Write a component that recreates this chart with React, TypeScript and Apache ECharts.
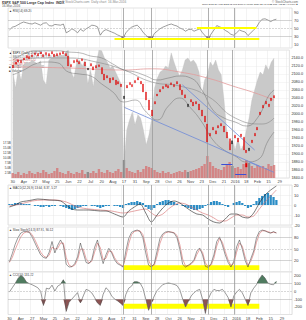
import React, { useEffect, useRef } from "react";
import * as echarts from "echarts";

// ---------- DATA ----------
const N = 100; // categories (95 with data, rest future)
const tickLabels = ["30","Apr","27","May","25","Jun","22","Jul","20","Aug","17","31","Sep","28","Oct","26","Nov","23","Dec","21","2016","18","Feb","15","29"];

const closes = [2115,2125,2130,2128,2135,2140,2138,2143,2148,2145,
  2150,2143,2148,2145,2150,2143,2145,2148,2150,2145,
  2120,2118,2128,2130,2125,2133,2120,2115,2120,2110,
  2115,2118,2100,2085,2090,2078,2085,2073,2075,2068,
  2045,2065,2073,2068,2078,2085,2075,2055,2035,2010,
  1995,2025,2045,2055,2063,2068,2065,2073,2068,2075,
  2060,2048,2040,2025,2030,2020,2025,2010,1995,1980,
  1930,1945,1960,1950,1965,1970,1955,1940,1910,1933,
  1940,1930,1943,1910,1903,1915,1928,1945,1960,1998,
  2015,2025,2018,2033,2040];
const opens = [2122,2130,2136,2134,2140,2146,2144,2148,2153,2151,
  2155,2149,2154,2151,2156,2150,2151,2153,2156,2151,
  2145,2124,2134,2136,2131,2138,2130,2110,2126,2118,
  2121,2123,2116,2100,2096,2090,2091,2085,2081,2075,
  2038,2072,2079,2074,2084,2091,2082,2075,2055,2035,
  2010,2031,2050,2061,2069,2074,2071,2078,2074,2081,
  2074,2060,2048,2018,2036,2030,2031,2025,2010,1995,
  1975,1952,1967,1958,1971,1976,1970,1955,1938,1925,
  1947,1940,1950,1942,1910,1908,1935,1952,1967,2005,
  2022,2032,2025,2040,2046];
const volumes = [2500,2000,3000,1500,2500,2000,3500,2500,2000,3000,
  2500,4000,3000,2000,2500,3500,5000,3000,2500,2000,
  3500,2500,2000,3000,2500,4000,2000,3000,2500,3500,
  2500,4500,3000,2500,4000,3000,2500,3500,4500,3000,
  9000,5000,3500,3000,2500,4000,3000,4500,6000,5500,
  5000,4000,3000,2500,3500,2500,3000,2000,2500,3000,
  3500,3000,4000,3000,3500,4000,4500,5000,6000,7000,
  11000,8000,6000,5000,4500,4000,5500,6500,8000,6000,
  5000,5500,4500,7000,9000,7500,6000,5000,6500,5500,
  6000,5000,7000,6000,6500];
const compareArea = [2110,2065,2115,2085,2123,2130,2128,2135,2130,2125,
  2133,2085,2073,2135,2140,2145,2140,2148,2143,2155,
  2160,2105,2090,2130,2135,2120,2135,2075,2110,2068,
  2125,2160,2158,2140,2130,2115,2120,2105,2090,2075,
  1873,1960,1985,2005,1973,1998,1990,1960,1923,1948,
  1990,2065,2090,2105,2110,2120,2115,2153,2130,2110,
  2095,2110,2135,2140,2130,2135,2125,2105,2048,2085,
  2098,2130,2120,2135,2110,2098,2035,1955,1923,1935,
  1910,1940,1910,1923,1960,1990,2035,2060,2085,2105,
  2098,2123,2110,2130,2140];
const ma200 = [[0,2118],[20,2115],[40,2110],[50,2113],[60,2105],[70,2090],[80,2068],[87,2053],[94,2035]];
const ma50 = [[0,2130],[10,2140],[20,2140],[30,2130],[40,2110],[50,2080],[60,2070],[70,2045],[80,1990],[90,1975],[94,1990]];
const bbUpper = [[0,2135],[4,2150],[8,2158],[12,2158],[16,2158],[20,2155],[24,2153],[28,2145],[32,2140],[36,2125],[40,2110],[44,2105],[48,2095],[52,2085],[56,2090],[60,2095],[64,2090],[68,2060],[72,2010],[76,1990],[80,1980],[84,1970],[88,1990],[92,2045],[94,2060]];
const bbLower = [[0,2098],[4,2110],[8,2125],[12,2130],[16,2128],[20,2105],[24,2100],[28,2095],[32,2075],[36,2055],[40,2030],[44,2035],[48,2005],[52,1985],[56,2020],[60,2040],[64,2015],[68,1980],[72,1935],[76,1910],[80,1895],[84,1880],[88,1885],[92,1935],[94,1955]];
const trendA = [[40,2017],[94,1854]];
const trendB = [[61,2073],[87,1910]];

const rsi = [45,52,54,58,62,65,63,61,60,63,
  60,57,62,63,56,55,59,58,57,60,
  38,42,48,44,38,47,42,48,52,57,
  56,53,32,42,46,43,40,37,33,30,
  24,38,46,52,55,57,50,40,32,26,
  22,36,42,48,52,55,58,60,57,55,
  50,47,42,46,47,42,45,48,38,30,
  22,35,45,56,53,50,44,40,34,32,
  38,45,42,40,31,38,45,52,64,72,
  73,70,66,70,72];

const macdLine = [[0,-2],[2,0],[4,3],[6,4],[8,5],[10,6],[14,5],[18,4],[20,0],[22,-4],[24,-5],[28,-5],[32,-6],[34,-6],[37,-9],[40,-12],[42,-6],[44,-2],[46,1],[48,-8],[50,-17],[52,-10],[54,-3],[56,2],[58,4],[60,2],[62,-2],[64,-6],[66,-9],[68,-10],[70,-14],[72,-17],[74,-18],[76,-14],[78,-9],[80,-9],[82,-12],[84,-13],[86,-8],[88,2],[90,10],[92,15],[94,19]];
const signalLine = [[0,-1],[4,1],[8,4],[12,5],[16,5],[20,3],[24,-2],[28,-4],[32,-5],[36,-6],[40,-8],[44,-6],[48,-4],[50,-8],[52,-11],[54,-9],[56,-4],[58,0],[60,2],[62,1],[64,-2],[66,-5],[68,-8],[70,-10],[72,-13],[74,-16],[76,-16],[78,-13],[80,-10],[82,-10],[84,-12],[86,-11],[88,-4],[90,3],[92,9],[94,15]];
const macdHist = [1,1,2,2,2,1,1,1,0,-1,
  -1,-2,-2,-1,-2,-1,-1,0,-1,-2,
  -3,-4,-5,-4,-3,-2,-1,-1,0,-1,
  -1,-2,-3,-2,-1,-1,0,-1,-1,-2,
  -3,1,2,3,3,4,3,2,-2,-4,
  -5,-3,1,3,4,5,5,4,3,1,
  0,-1,-2,-3,-4,-5,-5,-4,-3,-1,
  1,3,4,4,3,1,-1,-2,0,2,
  3,4,2,-1,-3,-2,1,4,7,9,
  11,12,10,8,5];

const stochK = [17,38,62,80,92,96,96,94,82,66,
  50,35,28,26,42,70,40,60,74,60,
  10,3,4,12,30,66,40,15,12,22,
  55,74,40,12,35,52,40,22,12,8,
  3,45,78,94,98,100,96,80,40,8,
  3,12,45,78,90,95,96,94,92,80,
  50,10,3,8,13,22,45,53,35,5,
  2,12,35,70,82,60,35,15,3,18,
  56,74,50,20,3,25,45,80,96,100,
  98,94,92,96,92];
const stochD = [15,28,48,66,82,92,95,95,88,74,
  58,42,32,28,34,55,50,52,66,66,
  28,8,4,8,22,50,50,25,14,18,
  42,66,54,22,26,45,44,28,16,10,
  5,30,64,88,96,98,98,88,58,20,
  6,8,32,65,85,93,95,95,93,86,
  62,24,6,6,11,18,36,50,42,14,
  4,8,26,58,78,68,44,22,7,12,
  42,66,58,30,8,18,38,68,90,98,
  98,96,93,94,93];

const cci = [-10,46,100,165,205,180,120,100,85,67,
  46,0,-183,40,30,80,4,67,90,150,
  -260,-142,-100,-58,-17,-150,-60,25,10,-20,
  -80,-150,-183,-40,46,10,-60,-100,-121,-150,
  -183,-40,40,67,125,125,108,40,-100,-246,
  -150,-60,10,50,87,100,108,100,90,75,
  20,-100,-204,-130,-60,-17,10,25,-100,-287,
  -100,-20,25,10,10,25,-20,-80,-204,-60,
  -10,25,-20,-100,-183,-20,40,87,160,212,
  171,108,90,85,129];

const markerDates = [40, 50, 70, 79]; // vertical annotation lines (category index)

// ---------- CHART ----------
const FONT = "Liberation Sans";
const cats = Array.from({ length: N }, (_, i) => "d" + i);

const vLines = markerDates.map((x) => ({ xAxis: x, lineStyle: { color: "#9c9c9c", width: 0.8, type: "solid" } }));
const hLine = (v: number, dashed = false) => ({ yAxis: v, lineStyle: { color: dashed ? "#b0b0b0" : "#a8a8a8", width: 0.5, type: dashed ? "dashed" : "solid" } });
const seg = (a: number[], b: number[], color: string, width: number) => [
  { coord: a, lineStyle: { color, width, type: "solid" } },
  { coord: b },
];
const mlBase = { silent: true, symbol: "none", label: { show: false } };

function xAx(g: number, labels: boolean) {
  return {
    type: "category",
    gridIndex: g,
    data: cats,
    boundaryGap: true,
    axisLine: { show: false },
    axisTick: { show: false },
    axisLabel: {
      show: labels,
      interval: 0,
      fontSize: 4,
      margin: 1.5,
      color: "#444",
      fontFamily: FONT,
      formatter: (_v: string, idx: number) => (idx % 4 === 0 ? tickLabels[idx / 4] ?? "" : ""),
    },
    splitLine: { show: true, interval: 3, lineStyle: { color: "#e6e6e6", width: 0.5 } },
  };
}
const yLab = { fontSize: 4, color: "#333", margin: 2, fontFamily: FONT };
const noAx = { axisLine: { show: false }, axisTick: { show: false } };

export default function App() {
  const ref = useRef<HTMLDivElement>(null);
  useEffect(() => {
    if (!ref.current) return;
    const chart = echarts.init(ref.current, null, { renderer: "svg" });
    const candles = closes.map((c, i) => [opens[i], c, Math.min(opens[i], c), Math.max(opens[i], c)]);
    const gridBase = { left: 8, right: 14, show: true, borderColor: "#c4c4c4", borderWidth: 0.5, backgroundColor: "#ffffff" };
    const option: any = {
      animation: false,
      backgroundColor: "#ffffff",
      textStyle: { fontFamily: FONT },
      grid: [
        { ...gridBase, top: 8, height: 40 },
        { ...gridBase, top: 50, height: 128 },
        { ...gridBase, top: 185, height: 40 },
        { ...gridBase, top: 227, height: 45 },
        { ...gridBase, top: 272, height: 44 },
      ],
      xAxis: [xAx(0, false), xAx(1, true), xAx(2, false), xAx(3, false), xAx(4, true)],
      yAxis: [
        { gridIndex: 0, type: "value", position: "right", min: 0, max: 100, interval: 10, ...noAx,
          axisLabel: { ...yLab, formatter: (v: number) => (v % 20 === 10 ? String(v) : "") }, splitLine: { show: false } },
        { gridIndex: 1, type: "value", position: "right", min: 1840, max: 2160, interval: 20, ...noAx,
          axisLabel: { ...yLab, fontSize: 3.8, formatter: (v: number) => (v < 2160 ? v.toFixed(1) : "") },
          splitLine: { show: true, lineStyle: { color: "#ececec", width: 0.5 } } },
        { gridIndex: 1, type: "value", position: "left", min: 0, max: 64000, interval: 2500, ...noAx,
          axisLabel: { ...yLab, fontSize: 3, margin: 0.5, formatter: (v: number) => (v > 0 && v <= 17500 ? (v / 1000).toFixed(1) + "B" : "") },
          splitLine: { show: false } },
        { gridIndex: 2, type: "value", position: "right", min: -20, max: 20, interval: 10, ...noAx,
          axisLabel: yLab, splitLine: { show: true, lineStyle: { color: "#e8e8e8", width: 0.5 } } },
        { gridIndex: 3, type: "value", position: "right", min: -10, max: 108, interval: 30, ...noAx,
          axisLabel: { ...yLab, formatter: (v: number) => (v >= 20 && v <= 80 ? String(v) : "") }, splitLine: { show: false } },
        { gridIndex: 4, type: "value", position: "right", min: -300, max: 250, interval: 100, ...noAx,
          axisLabel: { ...yLab, formatter: (v: number) => (v >= -200 && v <= 200 ? String(v) : "") }, splitLine: { show: false } },
      ],
      series: [
        // RSI panel
        { type: "line", name: "RSI fill", xAxisIndex: 0, yAxisIndex: 0, data: rsi.map((v) => Math.min(v, 30)),
          showSymbol: false, lineStyle: { width: 0 }, areaStyle: { origin: 30, color: "#8c6e8e", opacity: 1 }, z: 3 },
        { type: "line", name: "RSI", xAxisIndex: 0, yAxisIndex: 0, data: rsi, showSymbol: false,
          lineStyle: { color: "#5a5a5a", width: 0.6 }, z: 4,
          markLine: { ...mlBase, data: [hLine(70), hLine(50, true), hLine(30), ...vLines,
            seg([37, 24], [88, 24], "#ffff00", 2.2), seg([66, 50], [87, 50], "#ffff00", 2.2)] } },
        // Main panel
        { type: "line", name: "Compare", xAxisIndex: 1, yAxisIndex: 1, data: compareArea, showSymbol: false,
          lineStyle: { width: 0.3, color: "#bdbdbd" }, areaStyle: { origin: "start", color: "#c9c9c9", opacity: 1 }, z: 1 },
        { type: "bar", name: "Volume", xAxisIndex: 1, yAxisIndex: 2, data: volumes, barWidth: "85%",
          itemStyle: { color: (p: any) => (closes[p.dataIndex] < opens[p.dataIndex] ? "rgba(214,110,110,0.75)" : "rgba(120,120,120,0.75)") }, z: 2 },
        { type: "line", name: "MA200", xAxisIndex: 1, yAxisIndex: 1, data: ma200, smooth: true, showSymbol: false,
          lineStyle: { color: "#e29a9a", width: 0.8 }, z: 3 },
        { type: "line", name: "MA50", xAxisIndex: 1, yAxisIndex: 1, data: ma50, smooth: true, showSymbol: false,
          lineStyle: { color: "#8a8a8a", width: 0.6 }, z: 3 },
        { type: "line", name: "BB upper", xAxisIndex: 1, yAxisIndex: 1, data: bbUpper, smooth: true, showSymbol: false,
          lineStyle: { color: "#707070", width: 0.5 }, z: 3 },
        { type: "line", name: "BB lower", xAxisIndex: 1, yAxisIndex: 1, data: bbLower, smooth: true, showSymbol: false,
          lineStyle: { color: "#707070", width: 0.5 }, z: 3 },
        { type: "line", name: "Trend A", xAxisIndex: 1, yAxisIndex: 1, data: trendA, showSymbol: false,
          lineStyle: { color: "#6f8ad8", width: 0.8 }, z: 4 },
        { type: "line", name: "Trend B", xAxisIndex: 1, yAxisIndex: 1, data: trendB, showSymbol: false,
          lineStyle: { color: "#6f8ad8", width: 0.8 }, z: 4 },
        { type: "candlestick", name: "Price", xAxisIndex: 1, yAxisIndex: 1, data: candles, barWidth: 1.5,
          itemStyle: { color: "#1a1a1a", color0: "#e00000", borderColor: "#1a1a1a", borderColor0: "#e00000", borderWidth: 0.3 }, z: 5,
          markLine: { ...mlBase, data: [...vLines,
            seg([75, 1875], [79, 1875], "#3b4fd6", 1), seg([80, 1850], [84, 1850], "#3b4fd6", 1), seg([85, 1880], [89, 1868], "#6f8ad8", 0.8)] },
          markArea: { silent: true, itemStyle: { color: "#ffff00", opacity: 1 }, data: [[{ coord: [77, 1903] }, { coord: [79, 1885] }]] },
          markPoint: { silent: true, symbol: "rect", symbolSize: [2, 4], itemStyle: { color: "#e00000" }, label: { show: false },
            data: [{ coord: [84, 1872] }] } },
        // MACD panel
        { type: "bar", name: "Histogram", xAxisIndex: 2, yAxisIndex: 3, data: macdHist, barWidth: "80%",
          itemStyle: { color: "#2b8dc6" }, z: 2,
          markLine: { ...mlBase, data: vLines } },
        { type: "line", name: "MACD", xAxisIndex: 2, yAxisIndex: 3, data: macdLine, smooth: 0.3, showSymbol: false,
          lineStyle: { color: "#222", width: 0.6 }, z: 4 },
        { type: "line", name: "Signal", xAxisIndex: 2, yAxisIndex: 3, data: signalLine, smooth: 0.3, showSymbol: false,
          lineStyle: { color: "#d56a6a", width: 0.6 }, z: 3 },
        // Stochastic panel
        { type: "line", name: "%D", xAxisIndex: 3, yAxisIndex: 4, data: stochD, showSymbol: false,
          lineStyle: { color: "#d86a6a", width: 0.6 }, z: 3,
          markArea: { silent: true, itemStyle: { color: "#ffff00", opacity: 1 }, data: [[{ coord: [40, 8] }, { coord: [88, -5] }]] },
          markLine: { ...mlBase, data: [hLine(80), hLine(50, true), hLine(20), ...vLines] } },
        { type: "line", name: "%K", xAxisIndex: 3, yAxisIndex: 4, data: stochK, showSymbol: false,
          lineStyle: { color: "#333", width: 0.5 }, z: 4 },
        // CCI panel
        { type: "line", name: "CCI high", xAxisIndex: 4, yAxisIndex: 5, data: cci.map((v) => Math.max(v, 100)), showSymbol: false,
          lineStyle: { width: 0 }, areaStyle: { origin: 100, color: "#4f7b5f", opacity: 1 }, z: 3 },
        { type: "line", name: "CCI low", xAxisIndex: 4, yAxisIndex: 5, data: cci.map((v) => Math.min(v, -100)), showSymbol: false,
          lineStyle: { width: 0 }, areaStyle: { origin: -100, color: "#8d5353", opacity: 1 }, z: 3 },
        { type: "line", name: "CCI", xAxisIndex: 4, yAxisIndex: 5, data: cci, showSymbol: false,
          lineStyle: { color: "#555", width: 0.6 }, z: 4,
          markArea: { silent: true, itemStyle: { color: "#ffff00", opacity: 1 }, data: [[{ coord: [40, -162] }, { coord: [88, -225] }]] },
          markLine: { ...mlBase, data: [hLine(100), hLine(0, true), hLine(-100), ...vLines] } },
      ],
      graphic: [
        { type: "text", x: 2, y: 0.5, style: { text: "$SPX S&P 500 Large Cap Index  INDX", fontSize: 3.5, fontWeight: "bold", fill: "#333", fontFamily: FONT } },
        { type: "text", x: 62, y: 0.5, style: { text: "© StockCharts.com  Daily chart  16-Mar-2016", fontSize: 3.2, fill: "#888", fontFamily: FONT } },
        { type: "text", x: 2, y: 4, style: { text: "16-Mar-2016", fontSize: 3.2, fill: "#555", fontFamily: FONT } },
        { type: "text", x: 298, y: 0.5, style: { text: "© StockCharts.com", fontSize: 3, fill: "#666", fontFamily: FONT, align: "right" } },
        { type: "text", x: 298, y: 3.8, style: { text: "Open 2015.27 High 2032.02 Low 2010.04 Close 2027.22 Vol 3.2B Chg +12.23 (+0.61%)▲", fontSize: 2.4, fill: "#333", fontFamily: FONT, align: "right" } },
        { type: "text", x: 9, y: 9, style: { text: "▲ RSI(14) 69.26", fontSize: 3, fill: "#333", fontFamily: FONT } },
        { type: "text", x: 9, y: 51.5, style: { text: "▲ $SPX (Daily) 2027.22", fontSize: 3, fill: "#111", fontFamily: FONT } },
        { type: "text", x: 9, y: 55, style: { text: "— BB(20,2.0) 2060.31, 1977.40, 1894.49", fontSize: 3, fill: "#666", fontFamily: FONT } },
        { type: "text", x: 9, y: 58.5, style: { text: "— MA(200) 2015.42", fontSize: 3, fill: "#d06a6a", fontFamily: FONT } },
        { type: "text", x: 9, y: 62, style: { text: "— MA(50) 1954.83", fontSize: 3, fill: "#c03030", fontFamily: FONT } },
        { type: "text", x: 9, y: 65.5, style: { text: "■ $NYAD (Daily) 48125.00", fontSize: 3, fill: "#444", fontFamily: FONT } },
        { type: "text", x: 9, y: 69, style: { text: "■ Volume 3,235,151,744", fontSize: 3, fill: "#444", fontFamily: FONT } },
        { type: "text", x: 9, y: 186, style: { text: "▲ MACD(12,26,9) 13.64, 8.37, 5.27", fontSize: 3, fill: "#333", fontFamily: FONT } },
        { type: "text", x: 9, y: 228, style: { text: "▲ Slow Stoch(14,3) 87.91, 90.12", fontSize: 3, fill: "#333", fontFamily: FONT } },
        { type: "text", x: 9, y: 273, style: { text: "▲ CCI(20) 131.22", fontSize: 3, fill: "#333", fontFamily: FONT } },
      ],
    };
    chart.setOption(option);
    return () => chart.dispose();
  }, []);
  return (
    <div style={{ position: "fixed", left: 0, top: 0, width: 306, height: 320, background: "#fff" }}>
      <div ref={ref} style={{ width: 306, height: 320 }} />
    </div>
  );
}
